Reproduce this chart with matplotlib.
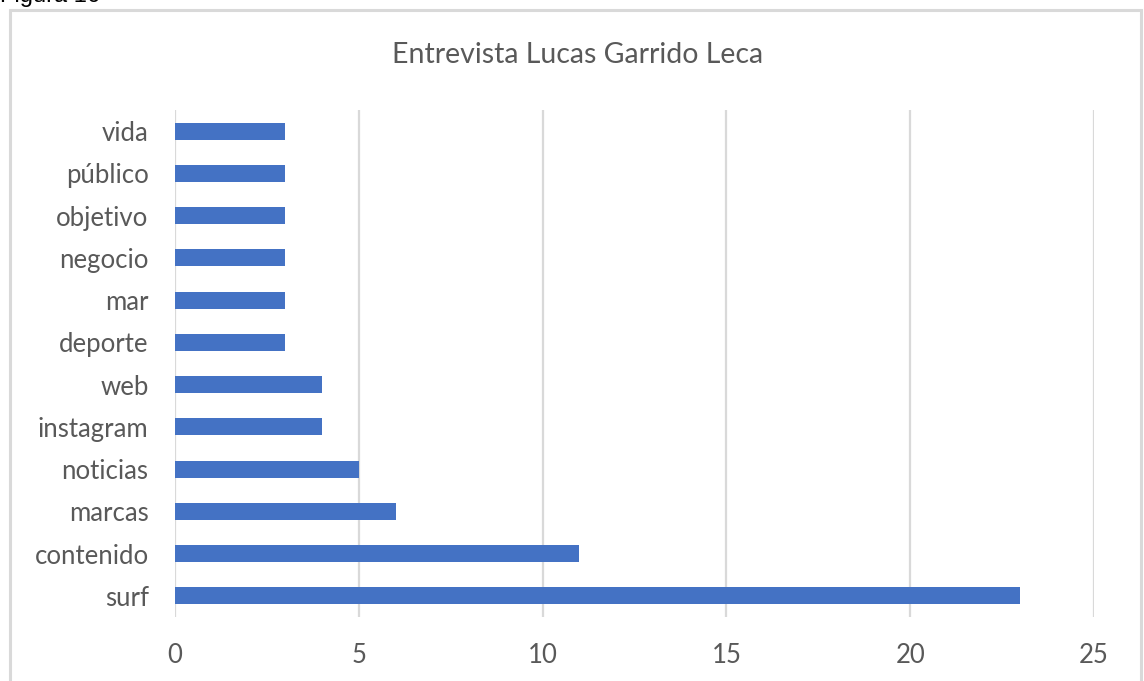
import matplotlib
matplotlib.use("Agg")
import matplotlib.pyplot as plt
from matplotlib.patches import Rectangle

# word counts from the interview, bottom to top
words = ["surf", "contenido", "marcas", "noticias", "instagram", "web",
         "deporte", "mar", "negocio", "objetivo", "público", "vida"]
counts = [23, 11, 6, 5, 4, 4, 3, 3, 3, 3, 3, 3]
xticks = [0, 5, 10, 15, 20, 25]

TEXT = "#595959"
BAR = "#4472C4"
GRID = "#d9d9d9"

plt.rcParams["font.family"] = ["Lato", "DejaVu Sans"]

fig = plt.figure(figsize=(11.44, 6.81), dpi=100)
W, H = 1144, 681

# chart frame, runs off the bottom edge
fig.patches.append(Rectangle((10 / W, -0.05), 1131 / W, 1.05 - 10 / H,
                             transform=fig.transFigure, fill=False,
                             edgecolor=GRID, linewidth=2.2))
fig.text(0.0, 1 - 2 / H, "Figura 16", family="Liberation Sans", fontsize=17,
         color="black", va="baseline", ha="left")

ax = fig.add_axes([175 / W, 1 - 617 / H, (1094 - 175) / W, (617 - 110) / H])
ax.barh(range(len(words)), counts, height=0.4, color=BAR, zorder=3)

ax.set_xlim(0, 25)
ax.set_ylim(-0.5, len(words) - 0.5)
ax.set_xticks(xticks)
ax.set_yticks(range(len(words)))
ax.set_yticklabels(words)
ax.grid(axis="x", color=GRID, linewidth=1.6, zorder=0)
for s in ax.spines.values():
    s.set_visible(False)
ax.tick_params(axis="both", length=0, labelsize=18.5, colors=TEXT)
ax.tick_params(axis="y", pad=19)
ax.tick_params(axis="x", pad=19)

fig.text(578 / W, 1 - 55 / H, "Entrevista Lucas Garrido Leca", ha="center",
         va="center", fontsize=20.5, color=TEXT)

fig.savefig("out.png", dpi=100)
